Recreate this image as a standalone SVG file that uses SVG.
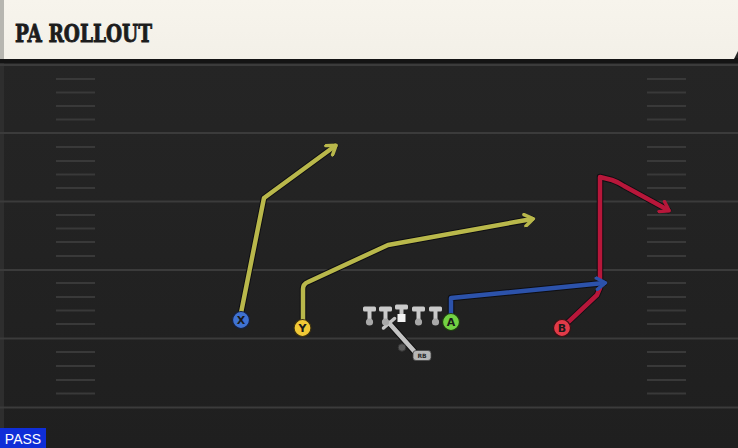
<svg xmlns="http://www.w3.org/2000/svg" width="738" height="448" viewBox="0 0 738 448">
<defs>
<style>
.major{stroke:#3b3b3b;stroke-width:2}
.hash{stroke:#393939;stroke-width:2}
.rt{fill:none;stroke-width:4.5;stroke-linecap:round;stroke-linejoin:round}
.ol{fill:none;stroke:#0e0e12;stroke-width:6.5;stroke-linecap:round;stroke-linejoin:round}
.lbl{font-family:"DejaVu Sans","Liberation Sans",sans-serif;font-weight:bold;font-size:11px;fill:#1a1a1a;text-anchor:middle}
.t{fill:#cacaca}
.dot{fill:#a8a8a8}
</style>
<linearGradient id="hdr" x1="0" y1="0" x2="0" y2="1">
<stop offset="0" stop-color="#f7f4ec"/><stop offset="1" stop-color="#f3f0e8"/>
</linearGradient>
<linearGradient id="fld" x1="0" y1="0" x2="0" y2="1">
<stop offset="0" stop-color="#262626"/><stop offset="1" stop-color="#1f1f1f"/>
</linearGradient>
<marker id="ay" viewBox="0 0 10 10" refX="6.5" refY="5" markerWidth="3.2" markerHeight="3.2" orient="auto" markerUnits="strokeWidth"><path d="M1.5,1 L7.5,5 L1.5,9" fill="none" stroke="#b9b84b" stroke-width="2.4" stroke-linecap="round" stroke-linejoin="round"/></marker>
<marker id="ab" viewBox="0 0 10 10" refX="6.5" refY="5" markerWidth="3.2" markerHeight="3.2" orient="auto" markerUnits="strokeWidth"><path d="M1.5,1 L7.5,5 L1.5,9" fill="none" stroke="#2c52aa" stroke-width="2.4" stroke-linecap="round" stroke-linejoin="round"/></marker>
<marker id="ar" viewBox="0 0 10 10" refX="6.5" refY="5" markerWidth="3.2" markerHeight="3.2" orient="auto" markerUnits="strokeWidth"><path d="M1.5,1 L7.5,5 L1.5,9" fill="none" stroke="#b7173a" stroke-width="2.4" stroke-linecap="round" stroke-linejoin="round"/></marker>
</defs>

<g id="field">
<rect x="0" y="0" width="738" height="448" fill="url(#fld)"/>
<rect x="0" y="0" width="4" height="448" fill="#2e2e2e"/>
<g class="major">
<line x1="0" y1="65" x2="738" y2="65"/>
<line x1="0" y1="133" x2="738" y2="133"/>
<line x1="0" y1="201.5" x2="738" y2="201.5"/>
<line x1="0" y1="270" x2="738" y2="270"/>
<line x1="0" y1="338.5" x2="738" y2="338.5"/>
<line x1="0" y1="407.5" x2="738" y2="407.5"/>
</g>
<g class="hash">
<path d="M56,79H95M56,92.5H95M56,106H95M56,119.5H95M56,147H95M56,161H95M56,174.5H95M56,188H95M56,215H95M56,228.5H95M56,242H95M56,256H95M56,283H95M56,297H95M56,310.5H95M56,324H95M56,352H95M56,366H95M56,380H95M56,393.5H95"/>
<path d="M647,79H686M647,92.5H686M647,106H686M647,119.5H686M647,147H686M647,161H686M647,174.5H686M647,188H686M647,215H686M647,228.5H686M647,242H686M647,256H686M647,283H686M647,297H686M647,310.5H686M647,324H686M647,352H686M647,366H686M647,380H686M647,393.5H686"/>
</g>
</g>

<g id="header">
<rect x="0" y="58" width="738" height="5" fill="#141414"/>
<path d="M0,0H738V51L734,59H0Z" fill="url(#hdr)"/>
<rect x="0" y="0" width="4" height="59" fill="#b7b6b0"/>
<text x="15" y="42" font-family="'DejaVu Serif','Liberation Serif',serif" font-weight="bold" font-size="25" fill="#1c1c1c" stroke="#1c1c1c" stroke-width="0.9" textLength="137" lengthAdjust="spacingAndGlyphs">PA ROLLOUT</text>
</g>

<g id="connectors">
<path class="ol" d="M241,313 L264,198 L335,146"/>
<path class="rt" stroke="#b9b84b" d="M241,313 L264,198 L335,146" marker-end="url(#ay)"/>
<path class="ol" d="M303,320 L303,289 Q303,284 308,282 L388,245 L532,219"/>
<path class="rt" stroke="#b9b84b" d="M303,320 L303,289 Q303,284 308,282 L388,245 L532,219" marker-end="url(#ay)"/>
<path class="ol" d="M563,327 L597,295 L600,288 L600,177 L612,180 Q618,182 624,186 L668,210"/>
<path class="rt" stroke="#b7173a" d="M563,327 L597,295 L600,288 L600,177 L612,180 Q618,182 624,186 L668,210" marker-end="url(#ar)"/>
<path class="ol" d="M451,314 L451,298 L604,283"/>
<path class="rt" stroke="#2c52aa" d="M451,314 L451,298 L604,283" marker-end="url(#ab)"/>
<line x1="389" y1="323" x2="414" y2="351" stroke="#111" stroke-width="6.5" stroke-linecap="round"/>
<line x1="389" y1="323" x2="414" y2="351" stroke="#c4c4c4" stroke-width="4.5" stroke-linecap="round"/>
<line x1="383.5" y1="328" x2="394.5" y2="318.5" stroke="#c4c4c4" stroke-width="3.5" stroke-linecap="round"/>
</g>

<g id="ol-line">
<g id="lt"><rect class="t" x="363" y="306.5" width="13" height="5" rx="1.5"/><rect class="t" x="367.5" y="308" width="4" height="13"/><circle class="dot" cx="369.5" cy="322" r="3.6"/></g>
<g id="lg"><rect class="t" x="379" y="306.5" width="13" height="5" rx="1.5"/><rect class="t" x="383.5" y="308" width="4" height="13"/><circle class="dot" cx="385.5" cy="322" r="3.6"/></g>
<g id="c"><rect class="t" x="395" y="304.5" width="13" height="5" rx="1.5"/><rect class="t" x="399.5" y="306" width="4" height="9"/><rect x="397.5" y="314" width="8" height="8" fill="#f4f4f4"/></g>
<g id="rg"><rect class="t" x="412" y="306.5" width="13" height="5" rx="1.5"/><rect class="t" x="416.5" y="308" width="4" height="13"/><circle class="dot" cx="418.5" cy="322" r="3.6"/></g>
<g id="rt"><rect class="t" x="429" y="306.5" width="13" height="5" rx="1.5"/><rect class="t" x="433.5" y="308" width="4" height="13"/><circle class="dot" cx="435.5" cy="322" r="3.6"/></g>
</g>

<g id="rb">
<circle cx="402" cy="347.5" r="3.8" fill="#5a5a5a" stroke="#333" stroke-width="1"/>
<rect x="413" y="350.5" width="18" height="10" rx="3" fill="#b6b6b6" stroke="#444" stroke-width="0.8"/>
<text x="422" y="358.3" font-family="'DejaVu Sans','Liberation Sans',sans-serif" font-weight="bold" font-size="6" fill="#2a2a2a" text-anchor="middle">RB</text>
</g>

<g id="X"><circle cx="241" cy="320" r="8.5" fill="#3f72d2" stroke="#152040" stroke-width="1.2"/><text class="lbl" x="241" y="324">X</text></g>
<g id="Y"><circle cx="302.5" cy="328" r="8.5" fill="#f1c936" stroke="#3a3010" stroke-width="1.2"/><text class="lbl" x="302.5" y="332">Y</text></g>
<g id="A"><circle cx="451" cy="322" r="8.5" fill="#72d143" stroke="#1d3a10" stroke-width="1.2"/><text class="lbl" x="451" y="326">A</text></g>
<g id="B"><circle cx="562" cy="328" r="8.5" fill="#e23a48" stroke="#3a1014" stroke-width="1.2"/><text class="lbl" x="562" y="332">B</text></g>

<g id="pass">
<rect x="0" y="428" width="46" height="20" fill="#0f2ed8"/>
<text x="23" y="443.5" font-family="'Liberation Sans','DejaVu Sans',sans-serif" font-size="14" fill="#ffffff" text-anchor="middle">PASS</text>
</g>
</svg>
